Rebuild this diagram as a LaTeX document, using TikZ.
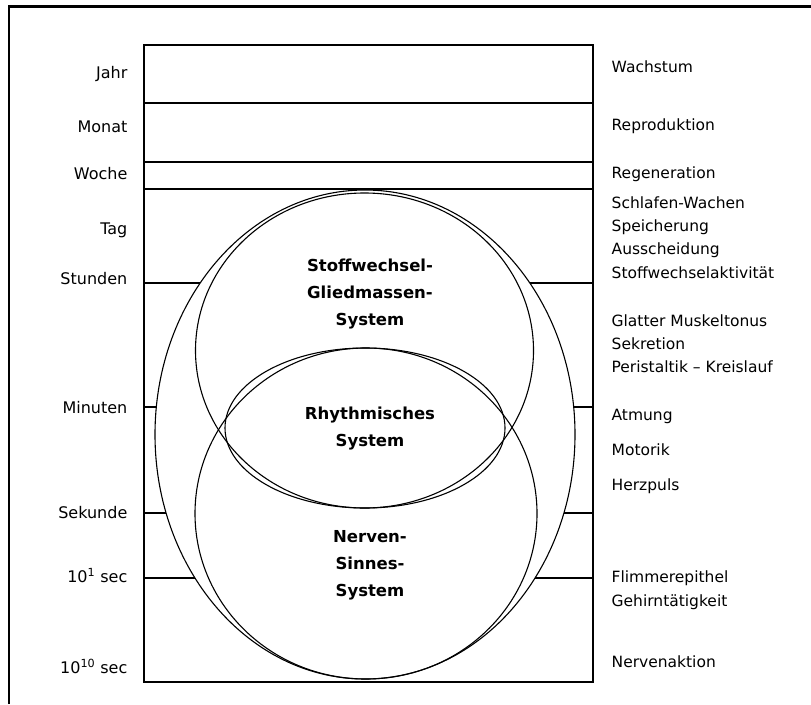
\documentclass[tikz,border=0pt]{standalone}
\usepackage{fontspec}
\setmainfont{DejaVu Sans}
\begin{document}
\begin{tikzpicture}[x=1pt, y=-1pt, line width=1.3pt,
        zeit/.style={anchor=east, inner sep=0pt, text height=11.5pt, text depth=0pt, font=\fontsize{16}{19}\selectfont},
        funk/.style={anchor=west, inner sep=0pt, text height=11.5pt, text depth=0pt, font=\fontsize{15.5}{19}\selectfont},
        sys/.style={align=center, inner sep=0pt, font=\fontsize{16.5}{27}\selectfont\bfseries}]
        \useasboundingbox (0,0) rectangle (811,704);
        % frame
        \draw[line width=2.8pt] (9,704) -- (9,6.5) -- (811,6.5);
        % time scale box
        \draw (144,45) rectangle (593,682);
        \draw (144,103) -- (593,103);
        \draw (144,162) -- (593,162);
        \draw (144,189) -- (593,189);
        % the three systems
        \draw[line width=1.1pt] (365,434.5) ellipse (210 and 244.5);
        \draw[line width=1.1pt] (364.5,350.5) ellipse (169 and 157.5);
        \draw[line width=1.1pt] (366,513.5) ellipse (171 and 165.5);
        \draw[line width=1.1pt] (365,428) ellipse (140 and 80);
        \foreach \y in {283,407,513,578} {
            \draw (144,\y) -- ({365-210*sqrt(1-((\y-434.5)/244.5)^2)},\y);
            \draw (593,\y) -- ({365+210*sqrt(1-((\y-434.5)/244.5)^2)},\y);
        }
        \node[sys] (stoff) at (370,294) {Stoffwechsel-\\Gliedmassen-\\System};
        \node[sys] (rhythm) at (370,429) {Rhythmisches\\System};
        \node[sys] (nerv) at (370,565) {Nerven-\\Sinnes-\\System};
        % time labels
        \node[zeit] (jahr) at (128,73) {Jahr};
        \node[zeit] (monat) at (128,127) {Monat};
        \node[zeit] (woche) at (128,174) {Woche};
        \node[zeit] (tag) at (128,229) {Tag};
        \node[zeit] (stunden) at (128,279) {Stunden};
        \node[zeit] (minuten) at (128,408) {Minuten};
        \node[zeit] (sekunde) at (128,513) {Sekunde};
        \node[zeit] (zehn1) at (128,577) {10\textsuperscript{1} sec};
        \node[zeit] (zehn10) at (128,668) {10\textsuperscript{10} sec};
        % functions
        \node[funk] (wachstum) at (611,67) {Wachstum};
        \node[funk] (repro) at (611,125) {Reproduktion};
        \node[funk] (regen) at (611,173) {Regeneration};
        \node[funk] (schlaf) at (611,203) {Schlafen-Wachen};
        \node[funk] (speicher) at (611,226) {Speicherung};
        \node[funk] (aussch) at (611,249) {Ausscheidung};
        \node[funk] (aktiv) at (611,273) {Stoffwechselaktivität};
        \node[funk] (tonus) at (611,321) {Glatter Muskeltonus};
        \node[funk] (sekret) at (611,344) {Sekretion};
        \node[funk] (peri) at (611,367) {Peristaltik – Kreislauf};
        \node[funk] (atmung) at (611,415) {Atmung};
        \node[funk] (motorik) at (611,450) {Motorik};
        \node[funk] (herz) at (611,485) {Herzpuls};
        \node[funk] (flimmer) at (611,577) {Flimmerepithel};
        \node[funk] (gehirn) at (611,601) {Gehirntätigkeit};
        \node[funk] (nervakt) at (611,662) {Nervenaktion};
    \end{tikzpicture}
\end{document}
